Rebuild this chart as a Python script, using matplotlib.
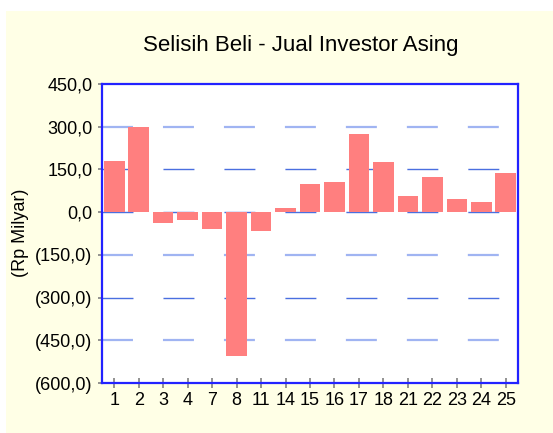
import matplotlib
matplotlib.use("Agg")
import numpy as np
import matplotlib.pyplot as plt
from matplotlib.patches import Rectangle

plt.rcParams['font.family'] = ['Liberation Sans', 'DejaVu Sans']
plt.rcParams['lines.scale_dashes'] = False

# data
days = ["1", "2", "3", "4", "7", "8", "11", "14", "15", "16", "17", "18", "21", "22", "23", "24", "25"]
net_buy = [179, 298, -37, -28, -60, -505, -67, 14, 98, 105, 274, 176, 56, 123, 46, 35, 137]
y_ticks = [450, 300, 150, 0, -150, -300, -450, -600]
y_tick_labels = ["450,0", "300,0", "150,0", "0,0", "(150,0)", "(300,0)", "(450,0)", "(600,0)"]

W, H = 553, 433
fig = plt.figure(figsize=(W / 100, H / 100), dpi=100)
fig.patch.set_facecolor("white")
# pale yellow chart area (white strip at top and left)
fig.patches.append(Rectangle((6 / W, 0), 1, 1 - 11 / H, transform=fig.transFigure,
                             facecolor="#ffffe6", edgecolor="none", zorder=-10))

ax = fig.add_axes([102 / W, 1 - 383 / H, (518 - 102) / W, (383 - 84) / H])
ax.set_facecolor("white")

x = np.arange(len(days))
ax.bar(x, net_buy, width=0.84, color="#ff7f7f", zorder=3)

# dashed grid; some rows render lighter/thicker in the original
dash = (0, (22.3, 21.6))
light_rows = [0, 3, 5]
for i, yv in enumerate(y_ticks[1:-1]):
    if i in light_rows:
        ax.axhline(yv, color="#a0b4f2", lw=1.6, ls=dash, zorder=1)
    else:
        ax.axhline(yv, color="#4a6fe0", lw=1.0, ls=dash, zorder=1)

ax.set_xlim(-0.5, len(days) - 0.5)
ax.set_ylim(-600, 450)
ax.set_xticks(x)
ax.set_xticklabels(days)
ax.set_yticks(y_ticks)
ax.set_yticklabels(y_tick_labels)

for s in ax.spines.values():
    s.set_color("#2222ff")
    s.set_linewidth(1.6)
    s.set_zorder(5)

ax.tick_params(axis="x", direction="inout", length=7, width=1.2, color="#808080",
               labelsize=13, pad=3)
ax.tick_params(axis="y", direction="out", length=3, width=1.2, color="#808080",
               labelsize=13, pad=4)

fig.text(21 / W, 1 - 233 / H, "(Rp Milyar)", rotation=90, ha="center", va="center", fontsize=13)
fig.text(301 / W, 1 - 46 / H, "Selisih Beli - Jual Investor Asing", ha="center", va="center",
         fontsize=16)

fig.savefig("out.png", dpi=100)
